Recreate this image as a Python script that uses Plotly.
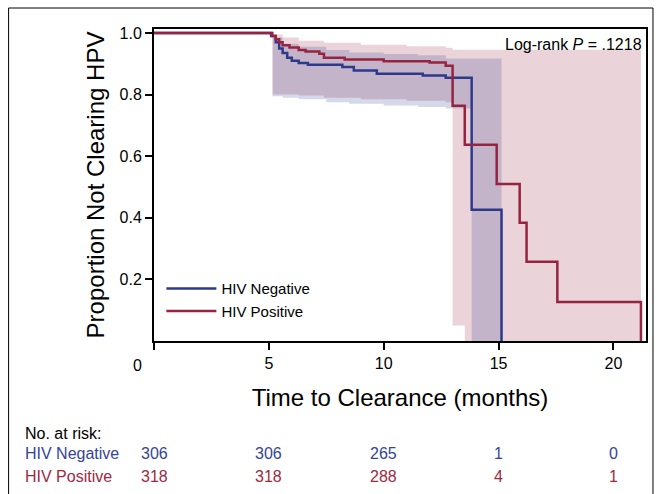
import numpy as np
import plotly.graph_objects as go

# ---------------- data ----------------
# Kaplan-Meier step curves (time in months, proportion not clearing)
neg_t = [0.0, 5.10, 5.30, 5.45, 5.60, 5.80, 6.00, 6.30, 6.70, 8.20, 8.70, 9.70, 11.70, 12.70, 13.83, 15.13]
neg_s = [1.0, 0.990, 0.970, 0.950, 0.935, 0.920, 0.910, 0.903, 0.897, 0.890, 0.878, 0.868, 0.862, 0.855, 0.426, 0.0]

pos_t = [0.0, 5.15, 5.30, 5.45, 5.60, 5.90, 6.30, 6.60, 7.20, 7.40, 8.30, 10.00, 12.00, 12.70, 13.00, 13.53, 14.92, 15.92, 16.22, 17.56, 21.20]
pos_s = [1.0, 0.990, 0.980, 0.970, 0.960, 0.953, 0.945, 0.940, 0.933, 0.920, 0.914, 0.908, 0.904, 0.894, 0.764, 0.637, 0.510, 0.384, 0.257, 0.127, 0.0]

# 95% confidence bands (step functions; last time = end of band)
neg_ci_t = [5.16, 5.60, 6.30, 7.50, 8.50, 10.00, 11.50, 12.70, 13.83, 15.13]
neg_ci_lo = [0.795, 0.790, 0.785, 0.775, 0.770, 0.765, 0.760, 0.755, 0.0]
neg_ci_hi = [0.985, 0.965, 0.955, 0.945, 0.937, 0.932, 0.928, 0.917, 0.917]

pos_ci_t = [5.16, 5.60, 6.30, 7.40, 9.00, 11.00, 12.70, 13.00, 13.53, 21.20]
pos_ci_lo = [0.800, 0.800, 0.797, 0.790, 0.785, 0.780, 0.775, 0.050, 0.0]
pos_ci_hi = [0.995, 0.985, 0.975, 0.968, 0.962, 0.957, 0.952, 0.946, 0.946]

risk_times = [0, 5, 10, 15, 20]
risk_neg = [306, 306, 265, 1, 0]
risk_pos = [318, 318, 288, 4, 1]

x_ticks = [0, 5, 10, 15, 20]
y_ticks = [0.2, 0.4, 0.6, 0.8, 1.0]

BLUE = "#2d3a8c"
RED = "#962340"
BLUE_TXT = "#34449a"
RED_TXT = "#a0283f"
FONT = "Liberation Sans"


def step_band(t, lo, hi):
    xs_u, ys_u, xs_l, ys_l = [], [], [], []
    for i in range(len(lo)):
        xs_u += [t[i], t[i + 1]]
        ys_u += [hi[i], hi[i]]
        xs_l += [t[i], t[i + 1]]
        ys_l += [lo[i], lo[i]]
    return xs_u + xs_l[::-1] + [xs_u[0]], ys_u + ys_l[::-1] + [ys_u[0]]


fig = go.Figure()

bx, by = step_band(pos_ci_t, pos_ci_lo, pos_ci_hi)
fig.add_trace(go.Scatter(x=bx, y=by, fill="toself", fillcolor="rgba(150,35,64,0.2)",
                         line=dict(width=0), mode="lines", showlegend=False, hoverinfo="skip"))
bx, by = step_band(neg_ci_t, neg_ci_lo, neg_ci_hi)
fig.add_trace(go.Scatter(x=bx, y=by, fill="toself", fillcolor="rgba(45,58,140,0.2)",
                         line=dict(width=0), mode="lines", showlegend=False, hoverinfo="skip"))

fig.add_trace(go.Scatter(x=neg_t, y=neg_s, mode="lines", line=dict(color=BLUE, width=2.5, shape="hv"),
                         name="HIV Negative", legendrank=1))
fig.add_trace(go.Scatter(x=pos_t, y=pos_s, mode="lines", line=dict(color=RED, width=2.5, shape="hv"),
                         name="HIV Positive", legendrank=2))

annotations = [
    dict(text="Log-rank <i>P</i> = .1218", xref="paper", yref="paper", x=0.996, y=0.985,
         xanchor="right", yanchor="top", showarrow=False, font=dict(size=16, color="black")),
    dict(text="0", xref="paper", yref="paper", x=(137 - 154) / 494, y=-0.08,
         xanchor="center", yanchor="middle", showarrow=False, font=dict(size=16, color="black")),
    dict(text="No. at risk:", xref="paper", yref="paper", x=(22 - 154) / 494, y=(341 - 433) / 312,
         xanchor="left", yanchor="middle", showarrow=False, font=dict(size=16, color="black")),
    dict(text="HIV Negative", xref="paper", yref="paper", x=(22 - 154) / 494, y=(341 - 453) / 312,
         xanchor="left", yanchor="middle", showarrow=False, font=dict(size=16, color=BLUE_TXT)),
    dict(text="HIV Positive", xref="paper", yref="paper", x=(22 - 154) / 494, y=(341 - 476) / 312,
         xanchor="left", yanchor="middle", showarrow=False, font=dict(size=16, color=RED_TXT)),
]
for t, n in zip(risk_times, risk_neg):
    annotations.append(dict(text=str(n), xref="x", yref="paper", x=t, y=(341 - 453) / 312,
                            xanchor="center", yanchor="middle", showarrow=False,
                            font=dict(size=16, color=BLUE_TXT)))
for t, n in zip(risk_times, risk_pos):
    annotations.append(dict(text=str(n), xref="x", yref="paper", x=t, y=(341 - 476) / 312,
                            xanchor="center", yanchor="middle", showarrow=False,
                            font=dict(size=16, color=RED_TXT)))

fig.update_layout(
    width=659, height=494,
    margin=dict(l=154, r=11, t=29, b=153),
    paper_bgcolor="white", plot_bgcolor="white",
    font=dict(family=FONT, color="black"),
    showlegend=True,
    legend=dict(x=0.015, y=0.22, xanchor="left", yanchor="top", bgcolor="rgba(0,0,0,0)",
                font=dict(size=15), tracegroupgap=0, itemwidth=50),
    annotations=annotations,
    shapes=[dict(type="rect", xref="paper", yref="paper",
                 x0=(8 - 154) / 494, x1=(655 - 154) / 494, y0=-0.55, y1=(341 - 8) / 312,
                 line=dict(color="black", width=1), fillcolor="rgba(0,0,0,0)", layer="below")],
)
fig.update_xaxes(range=[0, 21.42], tickvals=x_ticks, ticktext=["", "5", "10", "15", "20"],
                 ticks="outside", ticklen=7, tickwidth=1.5, tickcolor="black",
                 showline=True, linewidth=2, linecolor="black", mirror=True,
                 showgrid=False, zeroline=False, tickfont=dict(size=16),
                 title=dict(text="Time to Clearance (months)", font=dict(size=24), standoff=18))
fig.update_yaxes(range=[0, 1.013], tickvals=y_ticks, tickformat=".1f",
                 ticks="outside", ticklen=7, tickwidth=1.5, tickcolor="black",
                 showline=True, linewidth=2, linecolor="black", mirror=True,
                 showgrid=False, zeroline=False, tickfont=dict(size=16),
                 title=dict(text="Proportion Not Clearing HPV", font=dict(size=24), standoff=8))

fig.write_html("out.html", post_script="document.body.style.margin='0';",
               config={"displayModeBar": False})
